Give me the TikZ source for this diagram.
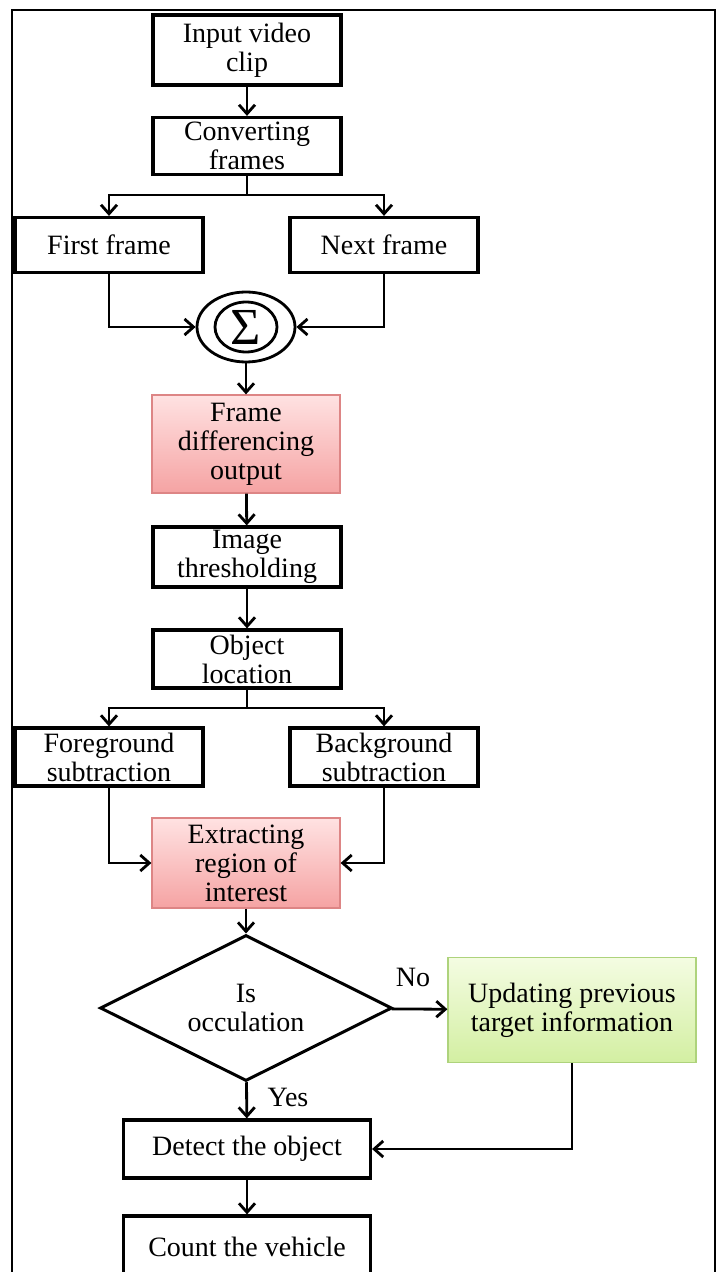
\documentclass[tikz,border=0pt]{standalone}
\usepackage{fontspec}
\setmainfont{Liberation Serif}
\usetikzlibrary{shapes.geometric,arrows.meta}

\definecolor{pinktop}{HTML}{FFE2E2}
\definecolor{pinkbot}{HTML}{F5A3A3}
\definecolor{pinkline}{HTML}{DD8585}
\definecolor{greentop}{HTML}{F4FCE2}
\definecolor{greenbot}{HTML}{D3EFA2}
\definecolor{greenline}{HTML}{AED37C}

\begin{document}
\begin{tikzpicture}[x=0.5pt,y=-0.5pt,
	font=\fontsize{14pt}{14.5pt}\selectfont,
	box/.style={draw,line width=1.6pt,align=center,minimum width=94pt,inner sep=0pt},
	pinkbox/.style={box,draw=pinkline,line width=0.6pt,top color=pinktop,bottom color=pinkbot},
	greenbox/.style={box,draw=greenline,line width=0.6pt,top color=greentop,bottom color=greenbot},
	decision/.style={draw,diamond,aspect=2,line width=1.5pt,align=center,minimum width=146pt,minimum height=73pt,inner sep=0pt},
	wire/.style={line width=1.4pt},
	arr/.style={wire,-{Straight Barb[length=4.5pt,width=8pt]}}]
\useasboundingbox (0,0) rectangle (719,1272);
\clip (0,0) rectangle (719,1272);

% outer frame
\draw[line width=0.6pt] (12,10) rectangle (715,1320);

%----------------------------
% Input and frames
%----------------------------
\node[box,minimum height=35pt] (input) at (247,50) {Input video\\clip};
\node[box,minimum height=28.5pt] (conv) at (247,146) {Converting\\frames};
\node[box,minimum height=27.5pt] (first) at (109,245) {First frame};
\node[box,minimum height=27.5pt] (next) at (384,245) {Next frame};

% summing junction
\node[draw,ellipse,line width=1.4pt,minimum width=49pt,minimum height=35pt] (ring) at (246,327) {};
\node[draw,ellipse,line width=1.4pt,minimum width=31pt,minimum height=25pt,inner sep=0pt,
	font=\fontsize{26pt}{26pt}\selectfont] (sum) at (246,327) {Σ};

%----------------------------
% Differencing and object location
%----------------------------
\node[pinkbox,minimum height=49pt] (diff) at (246,444) {Frame\\differencing\\output};
\node[box,minimum height=30pt] (thresh) at (247,557) {Image\\thresholding};
\node[box,minimum height=29pt] (loc) at (247,659) {Object\\location};
\node[box,minimum height=29pt] (fg) at (109,757) {Foreground\\subtraction};
\node[box,minimum height=29pt] (bg) at (384,757) {Background\\subtraction};
\node[pinkbox,minimum height=45pt] (roi) at (246,863) {Extracting\\region of\\interest};

%----------------------------
% Decision and counting
%----------------------------
\node[decision] (occ) at (246,1008) {Is\\occulation};
\node[greenbox,minimum width=124pt,minimum height=52.5pt] (upd) at (572,1010) {Updating previous\\target information};
\node[box,minimum width=123.5pt,minimum height=29pt] (detect) at (247,1149) {Detect the object};
\node[box,minimum width=123.5pt,minimum height=31pt] (count) at (247,1247) {Count the vehicle};
\node (nolbl) at (413,977) {No};
\node (yeslbl) at (288,1097) {Yes};

%----------------------------
% Connectors
%----------------------------
\coordinate (split1) at (247,195);
\coordinate (split2) at (247,708);

\draw[arr] (input) -- (conv);
\draw[wire] (conv) -- (split1);
\draw[arr] (split1) -| (first);
\draw[arr] (split1) -| (next);
\draw[arr] (first) |- (ring);
\draw[arr] (next) |- (ring);
\draw[arr] (ring) -- (diff);
\draw[arr] (diff) -- (thresh);
\draw[arr] (thresh) -- (loc);
\draw[wire] (loc) -- (split2);
\draw[arr] (split2) -| (fg);
\draw[arr] (split2) -| (bg);
\draw[arr] (fg) |- (roi);
\draw[arr] (bg) |- (roi);
\draw[arr] (roi) -- (occ);
\draw[arr] (occ) -- (upd);
\draw[arr] (occ) -- (detect);
\draw[arr] (upd) |- (detect);
\draw[arr] (detect) -- (count);

\end{tikzpicture}
\end{document}
